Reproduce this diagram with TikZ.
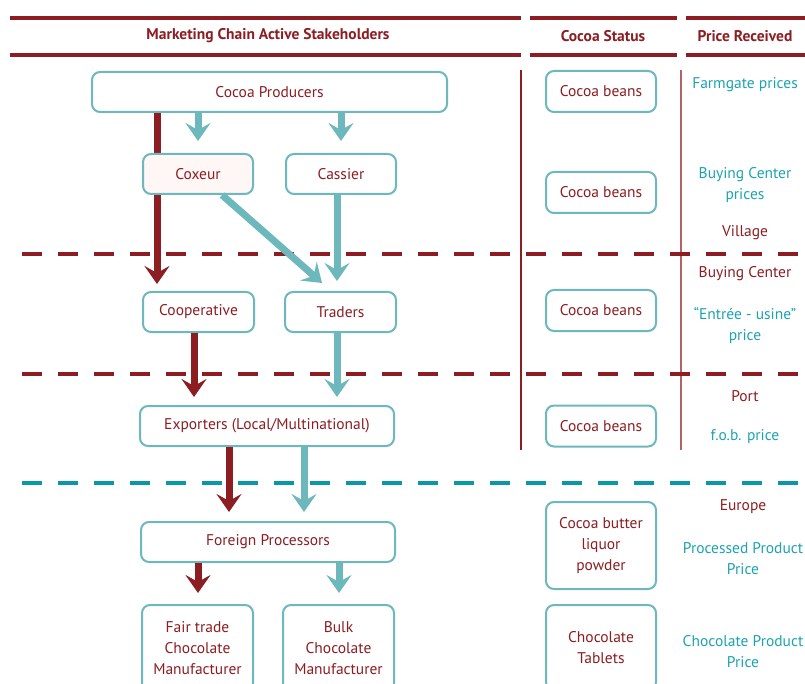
\documentclass[tikz,border=0pt]{standalone}
\usepackage{fontspec}
\setmainfont{PT Sans}
\usetikzlibrary{arrows.meta}
\definecolor{dred}{HTML}{8C1D22}
\definecolor{bteal}{HTML}{6DB8BD}
\definecolor{pteal}{HTML}{1BA3B0}
\definecolor{dteal}{HTML}{0A98A8}
\definecolor{vline}{HTML}{B0646A}
\definecolor{pinkfill}{HTML}{FFF6F6}
\pgfdeclarelayer{bg}
\pgfsetlayers{bg,main}
\begin{document}
\begin{tikzpicture}[x=1pt,y=-1pt,
  fs/.style={font=\fontsize{15.5}{21}\selectfont},
  box/.style={draw=bteal, line width=2pt, rounded corners=8pt, fill=white, text=dred, fs, align=center, minimum height=40pt, inner sep=0pt},
  hdrline/.style={draw=dred, line width=3.5pt},
  hdrtext/.style={text=dred, font=\fontsize{15.5}{18}\selectfont\bfseries},
  price/.style={text=pteal, fs, align=center},
  place/.style={text=dred, fs, align=center},
  rdash/.style={draw=dred, line width=4pt, dash pattern=on 20pt off 16pt},
  tdash/.style={draw=dteal, line width=4pt, dash pattern=on 20pt off 16pt},
  arrbase/.style={line width=7pt, -{Stealth[length=18pt,width=25pt,inset=7pt]}},
  rarr/.style={arrbase, draw=dred, fill=dred},
  tarr/.style={arrbase, draw=bteal, fill=bteal}
]
\useasboundingbox (0,0) rectangle (805,684);

% header
\draw[hdrline] (10,18) -- (521,18);
\draw[hdrline] (530,18) -- (677,18);
\draw[hdrline] (686,18) -- (805,18);
\draw[hdrline] (10,55) -- (521,55);
\draw[hdrline] (530,55) -- (677,55);
\draw[hdrline] (686,55) -- (805,55);
\node[hdrtext] (h1) at (268,36) {Marketing Chain Active Stakeholders};
\node[hdrtext] (h2) at (603,36) {Cocoa Status};
\node[hdrtext] (h3) at (745,36) {Price Received};

% x positions
\coordinate (xa) at (157,0);
\coordinate (xb) at (198,0);
\coordinate (xc) at (341,0);
\coordinate (xd) at (337,0);
\coordinate (xe) at (194,0);
\coordinate (xf) at (229,0);
\coordinate (xg) at (304,0);
\coordinate (xh) at (198,0);
\coordinate (xi) at (339,0);
\coordinate (xk) at (222,0);
\coordinate (dtip) at (322,283);

% main column boxes
\node[box, minimum width=355pt] (prod) at (269.5,92) {Cocoa Producers};
\node[box, minimum width=110pt, fill=pinkfill] (cox) at (198,174) {Coxeur};
\node[box, minimum width=110pt] (cas) at (341,174) {Cassier};
\node[box, minimum width=111pt] (coop) at (198.5,312) {Cooperative};
\node[box, minimum width=111pt] (trad) at (340.5,312) {Traders};
\node[box, minimum width=254pt] (exp) at (267,426) {Exporters (Local/Multinational)};
\node[box, minimum width=254pt] (fp) at (268,542) {Foreign Processors};
\node[box, minimum width=111pt, minimum height=86pt] (fair) at (197.5,648) {Fair trade\\Chocolate\\Manufacturer};
\node[box, minimum width=111pt, minimum height=86pt] (bulk) at (338.5,648) {Bulk\\Chocolate\\Manufacturer};

% status boxes
\node[box, minimum width=110pt, minimum height=41pt] (cb1) at (601,91.5) {Cocoa beans};
\node[box, minimum width=110pt, minimum height=41pt] (cb2) at (601,192.5) {Cocoa beans};
\node[box, minimum width=110pt, minimum height=41pt] (cb3) at (601,310.5) {Cocoa beans};
\node[box, minimum width=110pt, minimum height=41pt] (cb4) at (601,426) {Cocoa beans};
\node[box, minimum width=110pt, minimum height=87pt] (cbp) at (601,545.5) {Cocoa butter\\liquor\\powder};
\node[box, minimum width=110pt, minimum height=85pt] (ct) at (601,647.5) {Chocolate\\Tablets};

% price column
\node[price] (p1) at (745,85) {Farmgate prices};
\node[price] (p2) at (745,185.5) {Buying Center\\prices};
\node[place] (p3) at (745,233) {Village};
\node[place] (p4) at (745,274) {Buying Center};
\node[price] (p5) at (745,325.5) {“Entrée - usine”\\price};
\node[place] (p6) at (745,396) {Port};
\node[price] (p7) at (745,437) {f.o.b. price};
\node[place] (p8) at (743,507) {Europe};
\node[price] (p9) at (743,558.5) {Processed Product\\Price};
\node[price] (p10) at (743,651.5) {Chocolate Product\\Price};

\begin{pgfonlayer}{bg}
\draw[draw=dred, line width=1.3pt] (521,70) -- (521,450);
\draw[draw=vline, line width=1.3pt] (681,70) -- (681,450);
\draw[rdash] (22,254) -- (805,254);
\draw[rdash] (22,374) -- (805,374);
\draw[tdash] (22,483) -- (805,483);
\draw[rarr, shorten >=7pt] (prod.south -| xa) -- (coop.north -| xa);
\end{pgfonlayer}

% connectors
\draw[tarr, shorten >=12pt] (prod.south -| xb) -- (cox.north -| xb);
\draw[tarr, shorten >=12pt] (prod.south -| xc) -- (cas.north -| xc);
\draw[tarr] (cox.south -| xk) -- (dtip);
\draw[tarr, shorten >=10pt] (cas.south -| xd) -- (trad.north -| xd);
\draw[rarr, shorten >=8pt] (coop.south -| xe) -- (exp.north -| xe);
\draw[tarr, shorten >=8pt] (trad.south -| xd) -- (exp.north -| xd);
\draw[rarr, shorten >=9pt] (exp.south -| xf) -- (fp.north -| xf);
\draw[tarr, shorten >=9pt] (exp.south -| xg) -- (fp.north -| xg);
\draw[rarr, shorten >=11pt] (fp.south -| xh) -- (fair.north -| xh);
\draw[tarr, shorten >=11pt] (fp.south -| xi) -- (bulk.north -| xi);
\end{tikzpicture}
\end{document}
